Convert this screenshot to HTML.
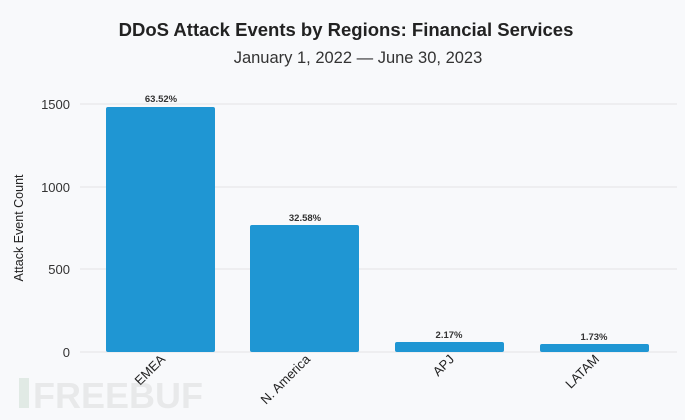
<!DOCTYPE html>
<html><head><style>
body{margin:0;background:#f8f9fb;}
svg{display:block}
text{font-family:"Liberation Sans",sans-serif;}
</style></head><body>
<svg width="685" height="420" viewBox="0 0 685 420">
<rect width="685" height="420" fill="#f8f9fb"/>
<text x="346" y="36" text-anchor="middle" font-size="18.5" font-weight="bold" fill="#222">DDoS Attack Events by Regions: Financial Services</text>
<text x="358" y="63" text-anchor="middle" font-size="16.5" fill="#333">January 1, 2022 — June 30, 2023</text>
<g stroke="#e3e4e6" stroke-width="1">
<line x1="80" y1="104" x2="677" y2="104"/>
<line x1="80" y1="187" x2="677" y2="187"/>
<line x1="80" y1="269" x2="677" y2="269"/>
<line x1="80" y1="352" x2="677" y2="352"/>
</g>
<g font-size="13" fill="#333" text-anchor="end">
<text x="70" y="109">1500</text>
<text x="70" y="192">1000</text>
<text x="70" y="274">500</text>
<text x="70" y="357">0</text>
</g>
<text transform="translate(23,228) rotate(-90)" text-anchor="middle" font-size="12.5" fill="#222">Attack Event Count</text>
<g fill="#1f96d3">
<rect x="106" y="107" width="109" height="245" rx="2"/>
<rect x="250" y="225" width="109" height="127" rx="2"/>
<rect x="395" y="342" width="109" height="10" rx="2"/>
<rect x="540" y="344" width="109" height="8" rx="2"/>
</g>
<g font-size="9.5" font-weight="bold" fill="#333" text-anchor="middle">
<text x="161" y="102">63.52%</text>
<text x="305" y="221">32.58%</text>
<text x="449" y="338">2.17%</text>
<text x="594" y="340">1.73%</text>
</g>
<g font-size="13" fill="#222" text-anchor="end">
<text transform="translate(166,360) rotate(-45)">EMEA</text>
<text transform="translate(311,360) rotate(-45)">N. America</text>
<text transform="translate(455,360) rotate(-45)">APJ</text>
<text transform="translate(600,360) rotate(-45)">LATAM</text>
</g>
<g opacity="0.25">
<rect x="19" y="378" width="10" height="30" fill="#9fc0a8"/>
<text x="33" y="408" font-size="36" font-weight="bold" fill="#bbb">FREEBUF</text>
</g>
</svg>
</body></html>
